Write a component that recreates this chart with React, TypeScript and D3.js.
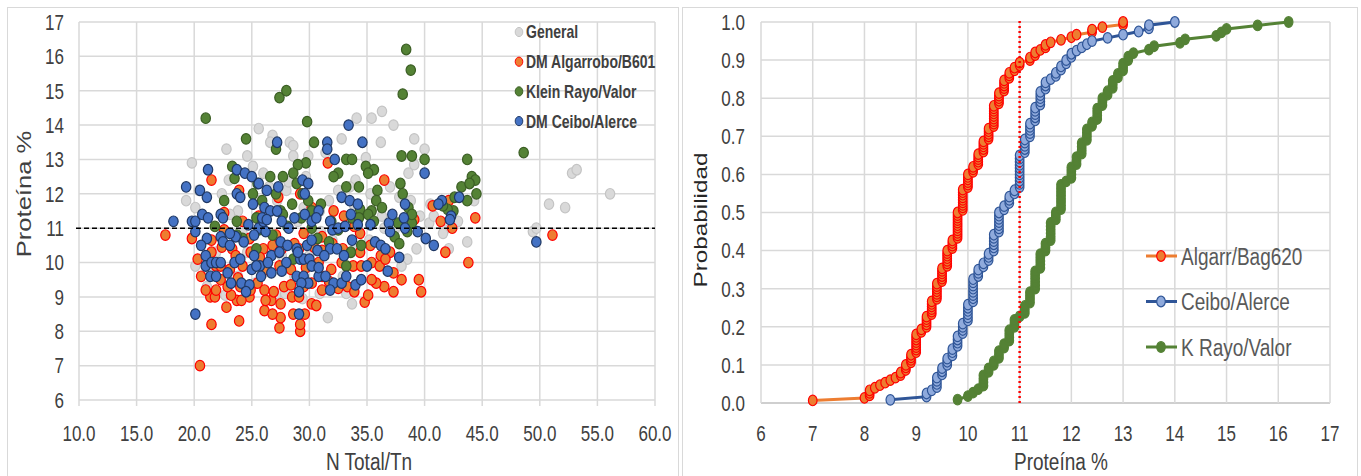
import React from 'react';
import * as d3 from 'd3';

const W = 1361;
const H = 476;
const SY = 1.28; // the source image is stretched vertically
const FONT = '"Liberation Sans", Arial, sans-serif';

// ---- left chart: N Total/Tn vs Proteína %
const leftXTicks = [10, 15, 20, 25, 30, 35, 40, 45, 50, 55, 60];
const leftYTicks = [6, 7, 8, 9, 10, 11, 12, 13, 14, 15, 16, 17];
const refProtein = 11;

const generalPts: [number, number][] = [
  [19.8, 12.9], [19.3, 11.8], [20.1, 11.6], [20.4, 12.1], [22.8, 13.3], [24.6, 13.1], [25.6, 13.9], [26.8, 13.7],
  [26.6, 13.5], [28.3, 13.5], [28.6, 13.4], [28.6, 13.1], [29.7, 12.5], [32.8, 13.6], [34.1, 14.2], [35.4, 14.2],
  [36.3, 14.4], [37.3, 14.0], [36.2, 13.5], [39.1, 13.6], [40.0, 13.3], [39.1, 12.85], [52.8, 12.6], [53.2, 12.7],
  [56.1, 12.0], [50.8, 11.7], [52.2, 11.6], [49.4, 10.9], [49.7, 11.0], [43.7, 10.6], [31.6, 8.4], [33.7, 8.8],
  [39.3, 10.4], [38.5, 10.1], [25.1, 12.8], [26.0, 12.6], [23.0, 12.4], [22.4, 12.0], [23.8, 11.5], [28.0, 12.1],
  [32.5, 12.1], [35.3, 12.0], [37.0, 12.2], [39.6, 11.35], [40.4, 11.15], [40.8, 11.35], [41.7, 10.95], [42.1, 10.4],
  [44.3, 11.8], [38.8, 11.8], [41.6, 10.85], [21.2, 9.7], [20.1, 9.9], [21.1, 9.3], [22.7, 9.05], [25.3, 9.4],
  [27.2, 9.1], [27.9, 9.1], [29.4, 8.95], [30.9, 9.1], [33.2, 9.1], [30.9, 11.5], [31.7, 11.8], [34.0, 12.4],
  [27.2, 11.8], [29.5, 11.6], [24.2, 10.85], [35.2, 10.65], [35.9, 10.0], [38.0, 9.9], [21.9, 10.3], [23.1, 11.4],
  [32.0, 10.65], [38.6, 12.6], [34.9, 13.05], [31.4, 13.2], [28.2, 12.35], [29.9, 13.1], [25.6, 11.8], [26.5, 12.2],
  [33.9, 11.65], [36.3, 11.35], [37.4, 10.95], [24.6, 10.3], [27.6, 10.2], [32.9, 9.6], [23.8, 9.6], [28.7, 9.6],
  [31.0, 10.9], [34.0, 10.4], [36.5, 11.0], [30.0, 10.2], [26.0, 9.7], [37.8, 11.9], [40.5, 11.7], [33.5, 12.2],
  [42.9, 11.2], [29.0, 11.2],
];

const algarroboPts: [number, number][] = [
  [20.5, 7.0], [21.5, 8.2], [23.9, 8.3], [27.4, 8.1], [29.2, 8.0], [29.2, 8.2], [27.5, 8.4], [26.1, 8.6],
  [26.8, 8.5], [28.6, 8.5], [29.6, 8.5], [22.8, 8.7], [30.2, 8.8], [30.6, 8.75], [34.8, 8.85], [35.1, 9.05],
  [23.7, 8.9], [21.4, 9.0], [21.8, 9.0], [23.2, 9.05], [24.8, 9.0], [26.7, 8.9], [27.5, 8.8], [28.5, 9.0],
  [29.1, 9.0], [37.3, 9.15], [39.7, 9.15], [39.5, 9.5], [38.0, 9.5], [37.3, 9.7], [36.5, 9.3], [35.8, 9.4],
  [35.4, 9.5], [33.3, 9.3], [32.5, 9.25], [20.6, 9.6], [21.0, 9.2], [21.9, 9.2], [22.3, 9.5], [22.9, 9.3],
  [23.8, 9.55], [24.9, 9.2], [25.5, 9.4], [26.1, 9.2], [26.9, 9.15], [27.8, 9.3], [28.4, 9.35], [29.5, 9.3],
  [30.2, 9.4], [31.1, 9.2], [31.7, 9.45], [33.9, 9.15], [20.3, 10.1], [19.8, 10.7], [17.5, 10.8], [21.5, 12.4],
  [23.9, 12.1], [29.2, 12.0], [27.3, 11.9], [31.6, 12.9], [36.5, 12.4], [40.7, 11.65], [41.4, 11.2], [42.1, 11.8],
  [44.4, 11.3], [42.4, 11.0], [41.8, 10.3], [43.8, 10.0], [51.1, 10.8], [39.1, 11.25], [22.6, 10.95], [22.4, 10.45],
  [23.3, 10.4], [21.5, 10.3], [23.6, 10.2], [24.9, 10.3], [26.0, 10.4], [26.8, 10.5], [27.6, 10.4], [28.7, 10.55],
  [29.1, 10.4], [30.4, 10.45], [31.1, 10.35], [32.0, 10.55], [32.9, 10.4], [34.4, 10.3], [35.3, 10.5], [36.2, 10.2],
  [37.0, 10.3], [21.9, 9.9], [22.3, 9.9], [23.1, 9.8], [24.2, 9.9], [26.3, 9.8], [27.4, 9.9], [28.4, 9.8],
  [29.7, 9.85], [30.8, 10.0], [31.9, 9.8], [32.8, 10.0], [33.8, 9.9], [34.5, 9.9], [35.4, 10.0], [36.1, 9.9],
  [36.6, 10.1], [34.4, 10.85], [33.9, 11.05], [33.0, 11.35], [32.1, 11.5], [30.2, 11.6], [25.6, 11.35], [24.2, 11.2],
  [22.6, 11.45], [21.5, 10.65], [31.1, 10.75], [29.5, 10.85], [27.1, 10.8], [24.8, 10.7], [25.7, 10.15], [24.0, 9.3],
  [31.1, 9.6], [26.2, 8.9], [24.1, 8.9],
];

const kleinPts: [number, number][] = [
  [38.4, 16.2], [38.8, 15.6], [38.1, 14.9], [27.4, 14.8], [28.0, 15.0], [21.0, 14.2], [29.8, 14.1], [24.5, 13.6],
  [30.4, 13.5], [27.1, 13.3], [48.6, 13.2], [38.0, 13.1], [38.9, 13.1], [33.2, 13.0], [33.7, 13.0], [40.0, 13.0],
  [43.7, 13.0], [29.7, 12.9], [29.0, 12.85], [23.3, 12.8], [34.9, 12.8], [35.6, 12.7], [28.6, 12.6], [32.5, 12.6],
  [35.1, 12.6], [44.1, 12.5], [26.6, 12.5], [27.7, 12.5], [32.1, 12.5], [23.5, 12.45], [44.4, 12.4], [25.5, 12.3],
  [28.9, 12.3], [37.9, 12.3], [33.2, 12.2], [43.2, 12.2], [34.3, 12.2], [35.9, 12.1], [25.1, 12.0], [27.1, 12.0],
  [38.1, 12.0], [44.5, 12.0], [43.9, 12.3], [22.6, 11.8], [25.9, 11.8], [35.8, 11.8], [42.6, 11.9], [43.7, 11.8],
  [29.9, 11.8], [31.0, 11.7], [28.5, 11.7], [38.6, 11.6], [36.3, 11.6], [42.5, 11.5], [27.5, 11.5], [34.4, 11.55],
  [35.4, 11.5], [30.2, 11.5], [42.0, 11.55], [35.1, 11.4], [23.7, 11.2], [25.4, 11.3], [25.9, 11.2], [27.7, 11.4],
  [29.3, 11.3], [31.9, 11.2], [33.7, 11.3], [35.6, 11.2], [34.3, 11.3], [38.9, 11.15], [37.7, 11.15], [38.5, 10.9],
  [25.6, 10.95], [26.8, 10.8], [30.7, 10.7], [31.7, 10.6], [37.4, 10.75], [37.8, 10.55], [34.5, 10.5], [24.2, 10.7],
  [30.2, 11.0], [25.4, 10.4], [33.6, 10.3], [28.6, 10.1], [33.2, 9.9], [28.1, 11.05], [32.5, 10.95], [21.8, 11.05],
  [23.7, 10.8], [29.4, 12.0], [41.6, 11.65], [38.9, 11.4],
];

const ceiboPts: [number, number][] = [
  [33.4, 14.0], [34.6, 13.5], [27.2, 13.5], [31.55, 13.5], [31.55, 13.3], [32.2, 13.0], [40.0, 12.6], [21.2, 12.7],
  [23.7, 12.7], [24.4, 12.6], [25.0, 12.5], [25.6, 12.3], [29.4, 12.4], [29.9, 12.3], [26.3, 12.1], [27.3, 12.2],
  [19.3, 12.2], [20.5, 12.1], [21.1, 11.9], [23.7, 12.0], [24.0, 11.9], [29.6, 12.0], [32.8, 11.9], [33.5, 11.8],
  [34.2, 11.7], [25.1, 11.7], [26.1, 11.6], [43.0, 11.9], [41.5, 11.8], [41.2, 11.7], [38.3, 11.7], [18.2, 11.2],
  [19.8, 11.2], [20.1, 11.2], [20.7, 11.4], [21.2, 11.3], [22.3, 11.4], [22.5, 11.3], [24.7, 11.1], [25.6, 11.0],
  [26.0, 11.2], [26.6, 11.5], [27.2, 11.5], [25.9, 11.3], [26.3, 11.25], [27.6, 11.2], [28.2, 11.0], [28.7, 11.3],
  [29.6, 11.4], [30.2, 11.2], [30.8, 11.5], [30.6, 11.3], [31.8, 11.2], [32.0, 10.95], [32.5, 11.0], [33.1, 11.05],
  [33.6, 11.4], [34.2, 11.1], [35.3, 11.1], [36.9, 11.15], [37.2, 11.4], [38.2, 11.3], [38.3, 11.0], [39.4, 10.9],
  [37.0, 10.9], [42.3, 11.35], [42.2, 11.25], [20.1, 10.9], [21.1, 10.7], [22.3, 10.75], [22.5, 10.6], [23.1, 10.5],
  [23.6, 10.75], [24.3, 10.6], [23.1, 10.85], [25.2, 10.8], [26.2, 10.9], [27.5, 10.6], [28.1, 10.5], [28.9, 10.4],
  [29.8, 10.5], [30.2, 10.65], [31.8, 10.4], [32.4, 10.4], [33.7, 10.65], [35.7, 10.6], [36.2, 10.5], [36.6, 10.4],
  [37.8, 10.15], [40.1, 10.7], [40.8, 10.5], [49.7, 10.6], [20.6, 10.5], [21.0, 10.2], [21.0, 9.9], [21.5, 10.0],
  [21.9, 10.0], [22.3, 10.0], [23.5, 10.0], [24.0, 10.1], [25.2, 10.2], [25.7, 9.9], [26.7, 10.2], [26.4, 10.0],
  [27.4, 10.3], [28.0, 10.0], [29.2, 10.1], [29.5, 10.1], [30.0, 10.1], [29.0, 10.3], [30.7, 10.35], [33.0, 10.2],
  [35.0, 9.9], [36.8, 9.75], [21.4, 9.6], [21.9, 9.6], [22.9, 9.7], [25.0, 9.8], [25.4, 9.9], [25.8, 9.6],
  [26.7, 9.7], [27.6, 9.75], [28.9, 9.6], [29.5, 9.6], [29.9, 9.4], [30.8, 9.6], [31.4, 9.6], [32.1, 9.4],
  [32.8, 9.4], [33.2, 9.6], [34.0, 9.35], [34.5, 9.5], [23.2, 9.4], [24.1, 9.4], [24.8, 9.35], [24.5, 9.15],
  [29.3, 9.4], [29.1, 9.15], [31.8, 9.2], [20.1, 8.5], [29.1, 8.5], [31.3, 10.2], [30.2, 9.9], [30.8, 9.85],
];

// ---- right chart: cumulative distribution of Proteína %
// [protein value, number of samples]
const rightXTicks = [6, 7, 8, 9, 10, 11, 12, 13, 14, 15, 16, 17];
const rightYTicks = [0, 0.1, 0.2, 0.3, 0.4, 0.5, 0.6, 0.7, 0.8, 0.9, 1.0];

const algarrFreq: [number, number][] = [
  [7.0, 1], [8.0, 1], [8.1, 3], [8.2, 1], [8.3, 1], [8.4, 1], [8.5, 1], [8.6, 1], [8.7, 2], [8.8, 3],
  [8.9, 4], [9.0, 8], [9.1, 2], [9.2, 5], [9.3, 6], [9.4, 7], [9.5, 6], [9.6, 7], [9.7, 4], [9.8, 11],
  [9.9, 9], [10.0, 6], [10.1, 3], [10.2, 5], [10.3, 5], [10.4, 5], [10.5, 9], [10.6, 5], [10.7, 5], [10.8, 3],
  [10.9, 2], [11.0, 2], [11.2, 2], [11.3, 2], [11.4, 1], [11.5, 2], [11.6, 1], [11.8, 1], [12.0, 1], [12.1, 1],
  [12.4, 2], [12.6, 1], [13.0, 2],
];

const ceiboFreq: [number, number][] = [
  [8.5, 1], [9.2, 2], [9.3, 1], [9.4, 4], [9.5, 3], [9.6, 3], [9.7, 3], [9.8, 4], [9.9, 4], [10.0, 6],
  [10.1, 8], [10.2, 3], [10.3, 2], [10.4, 3], [10.5, 6], [10.6, 7], [10.7, 2], [10.8, 3], [10.9, 2], [11.0, 11],
  [11.1, 5], [11.2, 5], [11.3, 5], [11.4, 5], [11.5, 3], [11.6, 1], [11.7, 2], [11.8, 2], [11.9, 2], [12.0, 2],
  [12.1, 1], [12.2, 1], [12.3, 1], [12.4, 1], [12.7, 1], [13.0, 1], [13.3, 1], [13.5, 2], [14.0, 1],
];

const kRayoFreq: [number, number][] = [
  [9.8, 1], [10.0, 1], [10.1, 1], [10.2, 1], [10.3, 4], [10.4, 2], [10.5, 2], [10.6, 3], [10.7, 2], [10.8, 4],
  [10.9, 3], [11.0, 1], [11.1, 3], [11.2, 4], [11.3, 6], [11.4, 5], [11.5, 3], [11.6, 6], [11.7, 3], [11.8, 8],
  [11.9, 1], [12.0, 4], [12.1, 3], [12.2, 4], [12.3, 4], [12.4, 2], [12.5, 4], [12.6, 3], [12.7, 2], [12.8, 3],
  [12.9, 2], [13.0, 3], [13.1, 2], [13.2, 1], [13.5, 1], [13.6, 1], [14.1, 1], [14.2, 1], [14.8, 1], [14.9, 1],
  [15.0, 1], [15.6, 1], [16.2, 1],
];

function ecdf(freq: [number, number][]): [number, number][] {
  const vals: number[] = [];
  freq.forEach(([v, c]) => {
    for (let i = 0; i < c; i++) vals.push(v);
  });
  return vals.map((v, i) => [v, (i + 1) / vals.length]);
}

// stretched text helper
function T({ x, y, anchor = 'middle', size = 17, fill = '#404040', weight = 'normal', dy = '0', rotate = false, children }: any) {
  const tr = rotate
    ? `translate(${x},${y}) rotate(-90) scale(${SY},1)`
    : `translate(${x},${y}) scale(1,${SY})`;
  return (
    <text transform={tr} textAnchor={anchor} fontSize={size} fill={fill} fontWeight={weight} dy={dy} fontFamily={FONT}>
      {children}
    </text>
  );
}

export default function App() {
  const xL = d3.scaleLinear().domain([10, 60]).range([79, 655]);
  const yL = d3.scaleLinear().domain([6, 17]).range([400, 22]);
  const xR = d3.scaleLinear().domain([6, 17]).range([761, 1330]);
  const yR = d3.scaleLinear().domain([0, 1]).range([403, 22]);

  const scatterSeries = [
    { name: 'General', pts: generalPts, fill: '#d9d9d9', stroke: '#c4c4c4' },
    { name: 'DM Algarrobo/B601', pts: algarroboPts, fill: '#ed7d31', stroke: '#ff0000' },
    { name: 'Klein Rayo/Valor', pts: kleinPts, fill: '#548235', stroke: '#3b5e24' },
    { name: 'DM Ceibo/Alerce', pts: ceiboPts, fill: '#4472c4', stroke: '#1f3864' },
  ];

  const cdfSeries = [
    { name: 'Algarr/Bag620', pts: ecdf(algarrFreq), line: '#ed7d31', fill: '#ed7d31', stroke: '#ff0000' },
    { name: 'Ceibo/Alerce', pts: ecdf(ceiboFreq), line: '#2f5597', fill: '#8faadc', stroke: '#2f5597' },
    { name: 'K Rayo/Valor', pts: ecdf(kRayoFreq), line: '#548235', fill: '#548235', stroke: '#548235' },
  ];

  const line = d3.line<[number, number]>().x(d => xR(d[0])).y(d => yR(d[1]));
  const grid = '#d9d9d9';

  return (
    <svg width={W} height={H} style={{ position: 'absolute', left: 0, top: 0, background: '#fff' }}>
      <rect x={0} y={0} width={W} height={H} fill="#fff" />
      {/* panel frames */}
      <rect x={7.5} y={7.5} width={671} height={475} fill="none" stroke="#d9d9d9" />
      <rect x={682.5} y={7.5} width={675} height={475} fill="none" stroke="#d9d9d9" />

      {/* ===== left chart ===== */}
      <g>
        {leftYTicks.map(t => (
          <line key={'lh' + t} x1={xL(10)} x2={xL(60)} y1={yL(t)} y2={yL(t)} stroke={grid} strokeWidth={1.5} />
        ))}
        {leftXTicks.map(t => (
          <line key={'lv' + t} x1={xL(t)} x2={xL(t)} y1={yL(17)} y2={yL(6) + 6} stroke={grid} strokeWidth={1.5} />
        ))}
        {leftYTicks.map(t => (
          <T key={'ly' + t} x={64} y={yL(t)} anchor="end" dy="0.36em">{t}</T>
        ))}
        {leftXTicks.map(t => (
          <T key={'lx' + t} x={xL(t)} y={441}>{t.toFixed(1)}</T>
        ))}
        <T x={369} y={470} size={19}>N Total/Tn</T>
        <T x={31} y={194} rotate size={20}>Proteína %</T>

        {scatterSeries.map(s => (
          <g key={s.name}>
            {s.pts.map((p, i) => (
              <ellipse key={i} cx={xL(p[0])} cy={yL(p[1])} rx={4.7} ry={5.3} fill={s.fill} stroke={s.stroke} strokeWidth={1.2} />
            ))}
          </g>
        ))}
        <line x1={xL(10) - 3} x2={xL(60)} y1={yL(refProtein)} y2={yL(refProtein)} stroke="#000" strokeWidth={1.5} strokeDasharray="5,3" />

        {scatterSeries.map((s, i) => (
          <g key={'lg' + s.name}>
            <ellipse cx={519} cy={32 + i * 29.7} rx={3.8} ry={4.6} fill={s.fill} stroke={s.stroke} strokeWidth={1} />
            <T x={526} y={32 + i * 29.7} anchor="start" size={14} weight="bold" dy="0.36em">{s.name}</T>
          </g>
        ))}
      </g>

      {/* ===== right chart ===== */}
      <g>
        {rightYTicks.map(t => (
          <line key={'rh' + t} x1={xR(6)} x2={xR(17)} y1={yR(t)} y2={yR(t)} stroke={t === 0 ? '#bfbfbf' : grid} strokeWidth={1.5} />
        ))}
        {rightXTicks.map(t => (
          <line key={'rv' + t} x1={xR(t)} x2={xR(t)} y1={yR(1)} y2={yR(0)} stroke={grid} strokeWidth={1.5} />
        ))}
        {rightYTicks.map(t => (
          <T key={'ry' + t} x={745} y={yR(t)} anchor="end" dy="0.36em">{t.toFixed(1)}</T>
        ))}
        {rightXTicks.map(t => (
          <T key={'rx' + t} x={xR(t)} y={441}>{t}</T>
        ))}
        <T x={1061} y={470} size={19}>Proteína %</T>
        <T x={707} y={220} rotate size={19} fill="#262626">Probabilidad</T>

        {cdfSeries.map(s => (
          <g key={s.name}>
            <path d={line(s.pts) || ''} fill="none" stroke={s.line} strokeWidth={3} />
            {s.pts.map((p, i) => (
              <ellipse key={i} cx={xR(p[0])} cy={yR(p[1])} rx={4.3} ry={5.3} fill={s.fill} stroke={s.stroke} strokeWidth={1.2} />
            ))}
          </g>
        ))}
        <line x1={xR(refProtein)} x2={xR(refProtein)} y1={yR(0)} y2={yR(1) - 2} stroke="#ff0000" strokeWidth={2.5} strokeDasharray="2,3" />

        {cdfSeries.map((s, i) => (
          <g key={'rg' + s.name}>
            <line x1={1146} x2={1177} y1={256 + i * 45.5} y2={256 + i * 45.5} stroke={s.line} strokeWidth={3} />
            <ellipse cx={1161} cy={256 + i * 45.5} rx={4.3} ry={5.3} fill={s.fill} stroke={s.stroke} strokeWidth={1.2} />
            <T x={1181} y={256 + i * 45.5} anchor="start" size={19} fill="#595959" dy="0.36em">{s.name}</T>
          </g>
        ))}
      </g>
    </svg>
  );
}
